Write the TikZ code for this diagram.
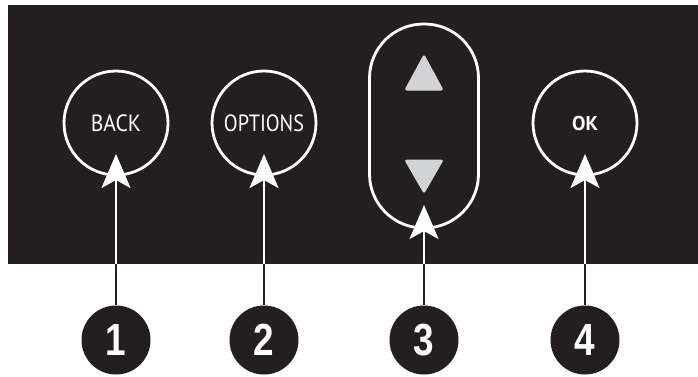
\documentclass[tikz,border=0pt]{standalone}
\usepackage{fontspec}
\setmainfont{PT Sans}
\newfontfamily\numfont{Liberation Sans}
\usetikzlibrary{arrows.meta}
\definecolor{panel}{HTML}{231F20}
\definecolor{keygrey}{HTML}{D1D3D4}
\begin{document}
\begin{tikzpicture}[x=1pt,y=-1pt,
  btn/.style={circle, draw=white, line width=2.8pt, minimum size=104pt, inner sep=0pt, text=white},
  numbadge/.style={circle, fill=panel, minimum size=69pt, inner sep=0pt, text=white, font=\numfont\fontsize{45}{45}\selectfont\bfseries},
  wline/.style={draw=white, line width=2.6pt},
  bline/.style={draw=panel, line width=2.6pt},
  tip/.style={-{Stealth[length=34pt,width=29pt,inset=8pt]}},
  keytri/.style={fill=keygrey, draw=keygrey, line width=1pt, rounded corners=2pt}
]
\useasboundingbox (0,0) rectangle (698,376);
\fill[panel] (8,5) rectangle (698,264);
% buttons
\node[btn] (back) at (116,123) {\fontsize{23.5}{24}\selectfont\scalebox{0.92}[1]{BACK}};
\node[btn] (opts) at (264,123) {\fontsize{23.5}{24}\selectfont\scalebox{0.86}[1]{OPTIONS}};
\node[btn] (ok) at (585,123) {\fontsize{20}{20}\selectfont\bfseries OK};
\node[draw=white, line width=2.8pt, rounded corners=54pt, minimum width=109pt, minimum height=204pt, inner sep=0pt] (pad) at (424,126) {};
\filldraw[keytri] (405,90) -- (424,55) -- (443,90) -- cycle;
\filldraw[keytri] (405,160) -- (443,160) -- (424,193) -- cycle;
% badges
\node[numbadge] (n1) at (116,340) {\scalebox{0.82}[1]{1}};
\node[numbadge] (n2) at (264,340) {\scalebox{0.82}[1]{2}};
\node[numbadge] (n3) at (424,340) {\scalebox{0.82}[1]{3}};
\node[numbadge] (n4) at (585,340) {\scalebox{0.82}[1]{4}};
% edge points
\coordinate (e1) at (116,264); \coordinate (t1) at (116,154);
\coordinate (e2) at (264,264); \coordinate (t2) at (264,154);
\coordinate (e3) at (424,264); \coordinate (t3) at (424,205);
\coordinate (e4) at (585,264); \coordinate (t4) at (585,154);
\foreach \i in {1,2,3,4}{
  \draw[bline] (n\i.north) -- (e\i);
  \draw[wline, tip, fill=white] (e\i) -- (t\i);
}
\end{tikzpicture}
\end{document}
